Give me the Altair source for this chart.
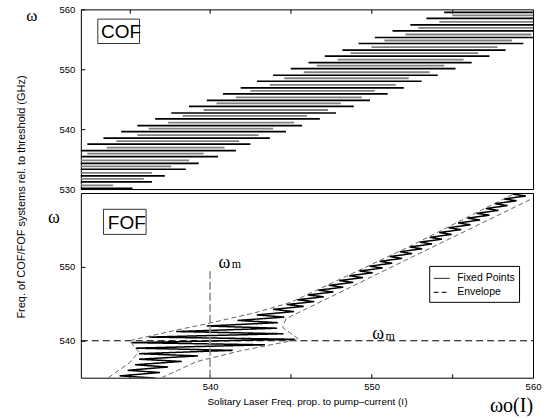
import altair as alt
import pandas as pd

# ---------------- COF panel (top): fixed-point branches ----------------
cof_black_w = [530.1, 531.2, 532.2, 533.3, 534.3, 535.4, 536.4, 537.5, 538.5, 539.6, 540.6, 541.7, 542.7, 543.8, 544.8,
               545.9, 546.9, 548.0, 549.0, 550.1, 551.1, 552.2, 553.2, 554.3, 555.3, 556.4, 557.4, 558.5, 559.5]
cof_black_xl = [525.0, 526.1, 527.2, 528.2, 529.3, 530.2, 531.3, 532.4, 533.4, 534.5, 535.5, 536.6, 537.6, 538.7, 539.8,
                540.8, 541.9, 542.9, 543.9, 545.0, 546.1, 547.1, 548.2, 549.2, 550.2, 551.3, 552.4, 553.4, 554.5]
cof_black_xr = [535.2, 536.4, 537.2, 538.5, 539.3, 540.5, 541.6, 542.5, 543.7, 544.7, 545.7, 546.8, 547.8, 548.9, 549.9,
                551.0, 552.0, 553.1, 554.1, 555.2, 556.2, 557.3, 558.3, 559.4, 560.5, 561.5, 562.5, 563.6, 564.6]

cof_gray_w = [530.6, 531.7, 532.7, 533.8, 534.8, 535.9, 536.9, 538.0, 539.0, 540.1, 541.1, 542.2, 543.2, 544.3,
              545.3, 546.4, 547.4, 548.5, 549.5, 550.6, 551.6, 552.7, 553.7, 554.8, 555.8, 556.9, 557.9, 559.0]
cof_gray_xl = [526.5, 528.3, 529.5, 530.1, 531.5, 532.4, 533.6, 534.2, 535.5, 536.2, 537.4, 538.3, 539.6, 540.4,
               541.6, 542.5, 543.7, 544.6, 545.8, 546.6, 547.9, 548.7, 550.0, 550.8, 552.1, 552.9, 554.2, 555.0]
cof_gray_xr = [534.0, 535.9, 536.4, 537.6, 538.7, 539.6, 540.9, 541.8, 543.0, 543.9, 545.2, 546.0, 547.3, 548.1,
               549.4, 550.2, 551.5, 552.3, 553.6, 554.5, 555.7, 556.6, 557.8, 558.7, 559.9, 560.8, 562.0, 562.9]

# ---------------- FOF panel (bottom): zig-zag of fixed points ----------------
fof_left_w = [534.5, 535.25, 536.0, 536.75, 537.5, 538.25, 539.0, 539.75, 540.5, 541.25, 542.0, 542.75, 543.5,
              544.25, 544.9, 545.55, 546.2, 546.85, 547.5, 548.15, 548.8, 549.45, 550.1, 550.75, 551.4, 552.05,
              552.7, 553.35, 554.0, 554.65, 555.3, 555.95, 556.6, 557.25, 557.9, 558.55, 559.2, 559.85]
fof_left_x = [533.85, 534.4, 534.9, 535.35, 535.6, 535.6, 535.4, 535.15, 536.2, 537.9, 539.8, 541.7, 542.9,
              543.9, 544.75, 545.4, 546.05, 546.7, 547.35, 548.0, 548.62, 549.25, 549.88, 550.51, 551.13, 551.75,
              552.37, 552.99, 553.6, 554.19, 554.77, 555.36, 555.94, 556.51, 557.08, 557.64, 558.21, 558.77]
fof_right_w = [534.95, 535.7, 536.45, 537.2, 537.95, 538.7, 539.45, 540.2, 540.95, 541.7, 542.45, 543.2, 543.95,
               544.65, 545.3, 545.95, 546.6, 547.25, 547.9, 548.55, 549.2, 549.85, 550.5, 551.15, 551.8, 552.45,
               553.1, 553.75, 554.4, 555.05, 555.7, 556.35, 557.0, 557.65, 558.3, 558.95, 559.6, 560.25]
fof_right_x = [536.6, 536.9, 537.4, 538.25, 539.25, 541.4, 543.4, 545.25, 544.55, 544.15, 544.2, 544.6, 545.2,
               545.8, 546.45, 547.04, 547.64, 548.25, 548.86, 549.47, 550.07, 550.68, 551.28, 551.89, 552.51, 553.13,
               553.74, 554.36, 554.96, 555.55, 556.13, 556.72, 557.3, 557.86, 558.42, 558.98, 559.55, 560.1]

env_left_x = [533.7, 535.0, 535.6, 535.0, 537.8, 539.8, 542.8, 545.0, 552.3, 558.9]
env_left_w = [535.0, 537.0, 538.5, 540.0, 541.4, 542.3, 543.8, 545.2, 552.7, 560.0]
env_right_x = [537.0, 539.2, 541.8, 545.5, 544.5, 544.7, 546.6, 552.1, 560.0]
env_right_w = [535.0, 537.2, 538.6, 540.2, 541.8, 543.0, 545.0, 550.9, 559.3]

omega_m = 540
omega_m_top = 549.4

x_tick_values = [535, 540, 545, 550, 555, 560]
y_top_ticks = [530, 535, 540, 545, 550, 555, 560]
y_bot_labels = [540, 550]
series_names = ["Fixed Points", "Envelope"]

SANS = "Liberation Sans"
SERIF = "Liberation Serif"

cof_black = pd.DataFrame({"w": cof_black_w, "xl": cof_black_xl, "xr": cof_black_xr})
cof_gray = pd.DataFrame({"w": cof_gray_w, "xl": cof_gray_xl, "xr": cof_gray_xr})

zz_rows = []
for k in range(len(fof_left_w)):
    zz_rows.append({"x": fof_left_x[k], "w": fof_left_w[k], "i": 2 * k, "series": series_names[0]})
    zz_rows.append({"x": fof_right_x[k], "w": fof_right_w[k], "i": 2 * k + 1, "series": series_names[0]})
zigzag = pd.DataFrame(zz_rows)

env_rows = []
for k, (x, w) in enumerate(zip(env_left_x, env_left_w)):
    env_rows.append({"x": x, "w": w, "i": k, "branch": "upper", "series": series_names[1]})
for k, (x, w) in enumerate(zip(env_right_x, env_right_w)):
    env_rows.append({"x": x, "w": w, "i": k, "branch": "lower", "series": series_names[1]})
envelope = pd.DataFrame(env_rows)

xs = alt.Scale(domain=[532, 560], nice=False, zero=False)
ys_top = alt.Scale(domain=[530, 560], nice=False, zero=False)
ys_bot = alt.Scale(domain=[535, 560], nice=False, zero=False)

W, H_TOP, H_BOT = 453, 180, 185
label_expr10 = "datum.value % 10 == 0 ? datum.label : ''"

# ---------------- top panel ----------------
y_axis_top = alt.Axis(values=y_top_ticks, labelExpr=label_expr10, offset=-4, tickSize=4, labelPadding=6,
                      domain=False,
                      title="Freq. of COF/FOF systems rel. to threshold (GHz)", titleX=-63, titleY=187.5,
                      titleAngle=270, titleAlign="center", titleBaseline="middle", titleFontSize=11)
x_axis_top = alt.Axis(orient="top", values=[535, 540, 545, 550, 555], labels=False, title=None,
                      offset=-4, tickSize=4, domain=False)

gray_lines = alt.Chart(cof_gray).mark_rule(color="#808080", strokeWidth=1.8, clip=True).encode(
    x=alt.X("xl:Q", scale=xs, axis=x_axis_top), x2="xr:Q",
    y=alt.Y("w:Q", scale=ys_top, axis=y_axis_top))
black_lines = alt.Chart(cof_black).mark_rule(color="black", strokeWidth=1.7, clip=True).encode(
    x=alt.X("xl:Q", scale=xs), x2="xr:Q",
    y=alt.Y("w:Q", scale=ys_top))

cof_box = pd.DataFrame({"x": [533.05], "x2": [535.63], "w": [554.3], "w2": [558.37]})
cof_box_layer = alt.Chart(cof_box).mark_rect(fill="white", stroke="black", strokeWidth=0.8).encode(
    x=alt.X("x:Q", scale=xs), x2="x2:Q",
    y=alt.Y("w:Q", scale=ys_top), y2="w2:Q")
cof_text = pd.DataFrame({"x": [533.25], "w": [555.3], "t": ["COF"]})
cof_text_layer = alt.Chart(cof_text).mark_text(align="left", baseline="alphabetic", font=SANS,
                                               fontSize=19, color="black").encode(
    x=alt.X("x:Q", scale=xs), y=alt.Y("w:Q", scale=ys_top), text="t:N")
omega_top = pd.DataFrame({"x": [528.97], "w": [558.9], "t": ["ω"]})
omega_top_layer = alt.Chart(omega_top).mark_text(align="center", baseline="middle", font=SERIF,
                                                 fontSize=17, color="black").encode(
    x=alt.X("x:Q", scale=xs), y=alt.Y("w:Q", scale=ys_top), text="t:N")

top = alt.layer(gray_lines, black_lines, cof_box_layer, cof_text_layer, omega_top_layer).properties(
    width=W, height=H_TOP)

# ---------------- bottom panel ----------------
leg = alt.Legend(title=None, orient="none", legendX=349, legendY=257, direction="vertical",
                 fillColor="white", strokeColor="black", padding=4, symbolType="stroke",
                 symbolStrokeColor="black", symbolStrokeWidth=1, symbolSize=256,
                 labelFont=SANS, labelFontSize=10.5, labelColor="black", labelOffset=7, rowPadding=0)
dash_scale = alt.Scale(domain=series_names, range=[[1, 0], [5, 3]])

x_axis_bot = alt.Axis(values=x_tick_values, labelExpr=label_expr10, offset=-4, tickSize=4, labelPadding=4,
                      domain=False, labelFlush=False,
                      title="Solitary Laser Freq. prop. to pump–current (I)", titlePadding=5)
y_axis_bot = alt.Axis(values=y_bot_labels, format="d", labelOverlap=False, labelFlush=False,
                      offset=-4, tickSize=4, labelPadding=6, domain=False, title=None)

hline = pd.DataFrame({"w": [omega_m], "x": [532], "x2": [560]})
hline_layer = alt.Chart(hline).mark_rule(color="black", strokeWidth=1.1, strokeDash=[7, 4]).encode(
    x=alt.X("x:Q", scale=xs), x2="x2:Q",
    y=alt.Y("w:Q", scale=ys_bot))
vline = pd.DataFrame({"x": [omega_m], "w": [535], "w2": [omega_m_top]})
vline_layer = alt.Chart(vline).mark_rule(color="#909090", strokeWidth=1.6, strokeDash=[8, 3]).encode(
    x=alt.X("x:Q", scale=xs), y=alt.Y("w:Q", scale=ys_bot), y2="w2:Q")

env_layer = alt.Chart(envelope).mark_line(color="#555555", strokeWidth=0.9, clip=True).encode(
    x=alt.X("x:Q", scale=xs), y=alt.Y("w:Q", scale=ys_bot),
    detail="branch:N", order="i:Q",
    strokeDash=alt.StrokeDash("series:N", scale=dash_scale, legend=leg))
zz_layer = alt.Chart(zigzag).mark_line(color="black", strokeWidth=1.5, clip=True).encode(
    x=alt.X("x:Q", scale=xs, axis=x_axis_bot), y=alt.Y("w:Q", scale=ys_bot, axis=y_axis_bot),
    order="i:Q",
    strokeDash=alt.StrokeDash("series:N", scale=dash_scale, legend=leg))

fof_box = pd.DataFrame({"x": [533.4], "x2": [536.04], "w": [554.4], "w2": [557.8]})
fof_box_layer = alt.Chart(fof_box).mark_rect(fill="white", stroke="black", strokeWidth=0.8).encode(
    x=alt.X("x:Q", scale=xs), x2="x2:Q",
    y=alt.Y("w:Q", scale=ys_bot), y2="w2:Q")
fof_text = pd.DataFrame({"x": [533.67], "w": [555.1], "t": ["FOF"]})
fof_text_layer = alt.Chart(fof_text).mark_text(align="left", baseline="alphabetic", font=SANS,
                                               fontSize=19, color="black").encode(
    x=alt.X("x:Q", scale=xs), y=alt.Y("w:Q", scale=ys_bot), text="t:N")

omega_big = pd.DataFrame({"x": [529.96, 540.53, 550.05], "w": [556.0, 549.9, 540.25], "t": ["ω", "ω", "ω"]})
omega_big_layer = alt.Chart(omega_big).mark_text(align="left", baseline="alphabetic", font=SERIF,
                                                 fontSize=18, color="black").encode(
    x=alt.X("x:Q", scale=xs), y=alt.Y("w:Q", scale=ys_bot), text="t:N")
m_sub = pd.DataFrame({"x": [541.35, 550.86], "w": [549.8, 540.15], "t": ["m", "m"]})
m_sub_layer = alt.Chart(m_sub).mark_text(align="left", baseline="alphabetic", font=SERIF,
                                         fontSize=12, color="black").encode(
    x=alt.X("x:Q", scale=xs), y=alt.Y("w:Q", scale=ys_bot), text="t:N")
w0 = pd.DataFrame({"x": [560.0], "w": [531.1], "t": ["ωo(I)"]})
w0_layer = alt.Chart(w0).mark_text(align="right", baseline="middle", font=SERIF,
                                   fontSize=20, color="black").encode(
    x=alt.X("x:Q", scale=xs), y=alt.Y("w:Q", scale=ys_bot), text="t:N")

bottom = alt.layer(zz_layer, hline_layer, vline_layer, env_layer, fof_box_layer, fof_text_layer,
                   omega_big_layer, m_sub_layer, w0_layer).properties(width=W, height=H_BOT)

chart = alt.vconcat(top, bottom, spacing=4, bounds="flush").properties(
    padding={"left": 15, "top": 3, "right": 5, "bottom": 2}
).configure_view(stroke="black", strokeWidth=1).configure_axis(
    grid=False, labelFont=SANS, labelFontSize=9.5, labelColor="black",
    tickColor="black", tickWidth=1, titleFont=SANS, titleFontSize=10,
    titleFontWeight="normal", titleColor="black")

chart.save("out.html", embed_options={"renderer": "svg", "actions": False})
